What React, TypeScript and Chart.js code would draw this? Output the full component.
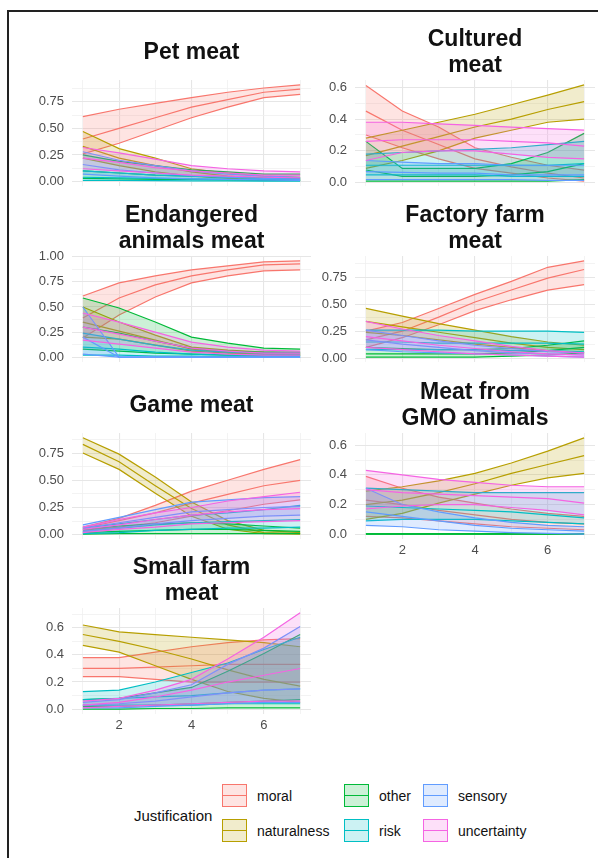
import React, { useEffect, useRef } from 'react';
import Chart from 'chart.js/auto';

const X_VALUES = [1, 2, 3, 4, 5, 6, 7];
const X_TICK_LABELS = ['2', '4', '6'];
const JUSTIFICATIONS = ['moral', 'naturalness', 'other', 'risk', 'sensory', 'uncertainty'];
const COLORS = ['#F8766D', '#B79F00', '#00BA38', '#00BFC4', '#619CFF', '#F564E3'];

// each series: [upper, mean, lower]
const petMoral = [[0.61, 0.68, 0.735, 0.79, 0.84, 0.88, 0.91], [0.40, 0.50, 0.60, 0.70, 0.77, 0.84, 0.87], [0.26, 0.36, 0.48, 0.60, 0.70, 0.79, 0.82]];
const petNaturalness = [[0.47, 0.31, 0.22, 0.12, 0.08, 0.05, 0.04], [0.33, 0.22, 0.15, 0.09, 0.05, 0.03, 0.02], [0.22, 0.15, 0.09, 0.05, 0.03, 0.02, 0.01]];
const petOther = [[0.25, 0.19, 0.15, 0.11, 0.09, 0.07, 0.07], [0.10, 0.08, 0.06, 0.05, 0.04, 0.035, 0.03], [0.03, 0.025, 0.02, 0.02, 0.015, 0.01, 0.01]];
const petRisk = [[0.10, 0.08, 0.06, 0.05, 0.04, 0.03, 0.03], [0.04, 0.035, 0.03, 0.025, 0.02, 0.015, 0.015], [0.01, 0.01, 0.008, 0.006, 0.005, 0.004, 0.003]];
const petSensory = [[0.28, 0.20, 0.15, 0.10, 0.07, 0.05, 0.04], [0.16, 0.11, 0.08, 0.055, 0.04, 0.03, 0.02], [0.07, 0.05, 0.035, 0.025, 0.02, 0.015, 0.01]];
const petUncertainty = [[0.32, 0.27, 0.21, 0.15, 0.12, 0.10, 0.09], [0.22, 0.18, 0.13, 0.10, 0.08, 0.06, 0.06], [0.12, 0.10, 0.08, 0.06, 0.05, 0.04, 0.035]];

const cultMoral = [[0.61, 0.45, 0.35, 0.22, 0.16, 0.11, 0.08], [0.45, 0.33, 0.24, 0.15, 0.10, 0.06, 0.03], [0.30, 0.22, 0.15, 0.09, 0.06, 0.03, 0.01]];
const cultNaturalness = [[0.28, 0.33, 0.38, 0.43, 0.49, 0.55, 0.615], [0.17, 0.23, 0.29, 0.35, 0.40, 0.46, 0.51], [0.09, 0.14, 0.20, 0.28, 0.33, 0.38, 0.40]];
const cultOther = [[0.26, 0.09, 0.09, 0.09, 0.12, 0.19, 0.31], [0.08, 0.04, 0.04, 0.04, 0.05, 0.07, 0.12], [0.01, 0.01, 0.01, 0.01, 0.01, 0.01, 0.02]];
const cultRisk = [[0.18, 0.19, 0.20, 0.21, 0.22, 0.24, 0.26], [0.11, 0.11, 0.11, 0.11, 0.11, 0.11, 0.12], [0.05, 0.05, 0.05, 0.05, 0.04, 0.04, 0.04]];
const cultSensory = [[0.14, 0.13, 0.12, 0.12, 0.11, 0.11, 0.11], [0.07, 0.065, 0.06, 0.06, 0.05, 0.05, 0.05], [0.02, 0.02, 0.02, 0.02, 0.02, 0.015, 0.015]];
const cultUncertainty = [[0.38, 0.38, 0.37, 0.36, 0.35, 0.34, 0.33], [0.26, 0.27, 0.27, 0.27, 0.26, 0.25, 0.23], [0.14, 0.19, 0.20, 0.20, 0.18, 0.16, 0.15]];

const endMoral = [[0.61, 0.74, 0.81, 0.87, 0.91, 0.95, 0.96], [0.39, 0.59, 0.72, 0.81, 0.87, 0.92, 0.93], [0.19, 0.42, 0.60, 0.74, 0.81, 0.86, 0.87]];
const endNaturalness = [[0.50, 0.35, 0.22, 0.10, 0.07, 0.05, 0.04], [0.35, 0.26, 0.17, 0.08, 0.05, 0.035, 0.03], [0.20, 0.18, 0.12, 0.06, 0.04, 0.03, 0.02]];
const endOther = [[0.59, 0.49, 0.35, 0.20, 0.14, 0.09, 0.08], [0.30, 0.24, 0.16, 0.09, 0.06, 0.05, 0.05], [0.08, 0.06, 0.04, 0.03, 0.02, 0.02, 0.02]];
const endRisk = [[0.24, 0.18, 0.12, 0.07, 0.05, 0.04, 0.04], [0.10, 0.08, 0.05, 0.03, 0.02, 0.02, 0.02], [0.02, 0.02, 0.01, 0.01, 0.005, 0.005, 0.005]];
const endSensory = [[0.50, 0, 0, 0, 0, 0, 0], [0.20, 0, 0, 0, 0, 0, 0], [0.03, 0, 0, 0, 0, 0, 0]];
const endUncertainty = [[0.44, 0.35, 0.25, 0.15, 0.10, 0.07, 0.06], [0.30, 0.23, 0.16, 0.09, 0.06, 0.04, 0.04], [0.17, 0.13, 0.09, 0.05, 0.03, 0.02, 0.02]];

const facMoral = [[0.25, 0.33, 0.46, 0.59, 0.71, 0.84, 0.90], [0.17, 0.25, 0.38, 0.52, 0.63, 0.74, 0.82], [0.10, 0.19, 0.31, 0.44, 0.54, 0.63, 0.68]];
const facNaturalness = [[0.46, 0.39, 0.32, 0.26, 0.20, 0.15, 0.12], [0.34, 0.29, 0.24, 0.19, 0.14, 0.10, 0.08], [0.24, 0.21, 0.17, 0.13, 0.10, 0.07, 0.05]];
const facOther = [[0.10, 0.09, 0.08, 0.08, 0.09, 0.12, 0.16], [0.04, 0.04, 0.04, 0.04, 0.05, 0.07, 0.10], [0.01, 0.01, 0.01, 0.01, 0.02, 0.03, 0.05]];
const facRisk = [[0.26, 0.26, 0.26, 0.25, 0.25, 0.25, 0.24], [0.15, 0.15, 0.14, 0.14, 0.14, 0.14, 0.13], [0.08, 0.08, 0.08, 0.08, 0.07, 0.07, 0.06]];
const facSensory = [[0.26, 0.21, 0.16, 0.12, 0.09, 0.06, 0.05], [0.17, 0.13, 0.10, 0.07, 0.05, 0.04, 0.03], [0.08, 0.06, 0.05, 0.04, 0.03, 0.02, 0.01]];
const facUncertainty = [[0.34, 0.27, 0.21, 0.16, 0.11, 0.07, 0.05], [0.20, 0.16, 0.12, 0.09, 0.06, 0.04, 0.03], [0.10, 0.08, 0.06, 0.04, 0.03, 0.02, 0.01]];

const gameMoral = [[0.07, 0.15, 0.27, 0.40, 0.50, 0.60, 0.69], [0.06, 0.13, 0.20, 0.29, 0.37, 0.45, 0.50], [0.04, 0.07, 0.11, 0.17, 0.22, 0.28, 0.32]];
const gameNaturalness = [[0.89, 0.74, 0.53, 0.30, 0.13, 0.04, 0.02], [0.83, 0.67, 0.45, 0.24, 0.09, 0.02, 0.01], [0.75, 0.60, 0.38, 0.17, 0.05, 0.01, 0.005]];
const gameOther = [[0.05, 0.08, 0.10, 0.11, 0.10, 0.08, 0.06], [0.02, 0.03, 0.04, 0.05, 0.05, 0.04, 0.03], [0.005, 0.01, 0.01, 0.01, 0.01, 0.01, 0.01]];
const gameRisk = [[0.06, 0.10, 0.14, 0.18, 0.20, 0.23, 0.27], [0.03, 0.06, 0.09, 0.11, 0.12, 0.13, 0.14], [0.01, 0.02, 0.04, 0.05, 0.06, 0.06, 0.07]];
const gameSensory = [[0.09, 0.16, 0.23, 0.30, 0.32, 0.34, 0.35], [0.06, 0.11, 0.16, 0.21, 0.23, 0.25, 0.26], [0.03, 0.06, 0.10, 0.13, 0.15, 0.17, 0.18]];
const gameUncertainty = [[0.07, 0.14, 0.20, 0.25, 0.31, 0.35, 0.39], [0.05, 0.09, 0.14, 0.18, 0.21, 0.23, 0.24], [0.02, 0.05, 0.07, 0.10, 0.11, 0.12, 0.13]];

const gmoMoral = [[0.39, 0.31, 0.25, 0.21, 0.17, 0.14, 0.12], [0.23, 0.20, 0.16, 0.13, 0.10, 0.08, 0.07], [0.12, 0.11, 0.09, 0.07, 0.05, 0.04, 0.03]];
const gmoNaturalness = [[0.29, 0.32, 0.36, 0.41, 0.48, 0.56, 0.65], [0.20, 0.23, 0.28, 0.34, 0.41, 0.47, 0.53], [0.10, 0.14, 0.21, 0.27, 0.33, 0.38, 0.41]];
const gmoOther = [[0.004, 0.004, 0.004, 0.004, 0.004, 0.004, 0.004], [0, 0, 0, 0, 0, 0, 0], [0, 0, 0, 0, 0, 0, 0]];
const gmoRisk = [[0.31, 0.30, 0.29, 0.28, 0.28, 0.28, 0.28], [0.19, 0.18, 0.17, 0.16, 0.15, 0.13, 0.11], [0.09, 0.10, 0.10, 0.10, 0.09, 0.08, 0.07]];
const gmoSensory = [[0.31, 0.20, 0.15, 0.11, 0.08, 0.06, 0.05], [0.15, 0.12, 0.09, 0.06, 0.04, 0.03, 0.02], [0.06, 0.05, 0.03, 0.02, 0.01, 0.005, 0]];
const gmoUncertainty = [[0.43, 0.40, 0.37, 0.35, 0.33, 0.32, 0.32], [0.30, 0.28, 0.27, 0.26, 0.25, 0.24, 0.21], [0.17, 0.19, 0.20, 0.20, 0.18, 0.16, 0.13]];

const smallMoral = [[0.38, 0.38, 0.42, 0.46, 0.49, 0.51, 0.52], [0.30, 0.30, 0.31, 0.32, 0.33, 0.33, 0.33], [0.24, 0.24, 0.22, 0.20, 0.20, 0.20, 0.20]];
const smallNaturalness = [[0.62, 0.57, 0.55, 0.53, 0.51, 0.49, 0.46], [0.55, 0.50, 0.44, 0.37, 0.29, 0.22, 0.17], [0.47, 0.42, 0.32, 0.22, 0.13, 0.08, 0.05]];
const smallOther = [[0.07, 0.08, 0.12, 0.16, 0.28, 0.41, 0.55], [0.02, 0.02, 0.03, 0.04, 0.05, 0.06, 0.07], [0, 0, 0.005, 0.005, 0.01, 0.01, 0.01]];
const smallRisk = [[0.13, 0.14, 0.20, 0.27, 0.34, 0.44, 0.53], [0.07, 0.08, 0.09, 0.10, 0.12, 0.14, 0.15], [0.03, 0.03, 0.03, 0.03, 0.04, 0.04, 0.04]];
const smallSensory = [[0.05, 0.07, 0.12, 0.18, 0.33, 0.45, 0.61], [0.03, 0.04, 0.06, 0.09, 0.12, 0.14, 0.15], [0.01, 0.01, 0.02, 0.03, 0.04, 0.05, 0.05]];
const smallUncertainty = [[0.06, 0.08, 0.14, 0.22, 0.37, 0.53, 0.71], [0.03, 0.05, 0.09, 0.14, 0.20, 0.25, 0.30], [0.01, 0.02, 0.03, 0.04, 0.05, 0.06, 0.06]];

const PANELS = [
  { title: ['Pet meat'], col: 0, row: 0, step: 0.25, dec: 2, showX: false, series: [petMoral, petNaturalness, petOther, petRisk, petSensory, petUncertainty] },
  { title: ['Cultured', 'meat'], col: 1, row: 0, step: 0.2, dec: 1, showX: false, series: [cultMoral, cultNaturalness, cultOther, cultRisk, cultSensory, cultUncertainty] },
  { title: ['Endangered', 'animals meat'], col: 0, row: 1, step: 0.25, dec: 2, showX: false, series: [endMoral, endNaturalness, endOther, endRisk, endSensory, endUncertainty] },
  { title: ['Factory farm', 'meat'], col: 1, row: 1, step: 0.25, dec: 2, showX: false, series: [facMoral, facNaturalness, facOther, facRisk, facSensory, facUncertainty] },
  { title: ['Game meat'], col: 0, row: 2, step: 0.25, dec: 2, showX: false, series: [gameMoral, gameNaturalness, gameOther, gameRisk, gameSensory, gameUncertainty] },
  { title: ['Meat from', 'GMO animals'], col: 1, row: 2, step: 0.2, dec: 1, showX: true, series: [gmoMoral, gmoNaturalness, gmoOther, gmoRisk, gmoSensory, gmoUncertainty] },
  { title: ['Small farm', 'meat'], col: 0, row: 3, step: 0.2, dec: 1, showX: true, series: [smallMoral, smallNaturalness, smallOther, smallRisk, smallSensory, smallUncertainty] },
];

const FONT = '"Liberation Sans", Arial, Helvetica, sans-serif';
const COL_GEOM = [
  { left: 10, width: 302, axisW: 62, padRight: 1 },
  { left: 312, width: 286, axisW: 43, padRight: 3 },
];
const ROW_TOPS = [80, 256, 433, 608];
const PLOT_H = 106;
const PAD_TOP = 20;
const X_AXIS_H = 24;

function rgba(hex: string, a: number) {
  const n = parseInt(hex.slice(1), 16);
  return `rgba(${(n >> 16) & 255},${(n >> 8) & 255},${n & 255},${a})`;
}

function buildConfig(p: any): any {
  let dmin = Infinity, dmax = -Infinity;
  p.series.forEach((s: number[][]) => s.forEach((arr) => arr.forEach((v) => { dmin = Math.min(dmin, v); dmax = Math.max(dmax, v); })));
  const range = dmax - dmin;
  const ymin = dmin - range * 0.05;
  const ymax = dmax + range * 0.05;
  const datasets: any[] = [];
  for (let j = JUSTIFICATIONS.length - 1; j >= 0; j--) {
    const [hi, mid, lo] = p.series[j];
    const c = COLORS[j];
    const common = { borderColor: c, borderWidth: 1.2, pointRadius: 0, pointHoverRadius: 0, tension: 0 };
    datasets.push({ ...common, label: JUSTIFICATIONS[j] + ' upper', data: X_VALUES.map((x, i) => ({ x, y: hi[i] })), backgroundColor: rgba(c, 0.2), fill: '+2' });
    datasets.push({ ...common, label: JUSTIFICATIONS[j], data: X_VALUES.map((x, i) => ({ x, y: mid[i] })), fill: false });
    datasets.push({ ...common, label: JUSTIFICATIONS[j] + ' lower', data: X_VALUES.map((x, i) => ({ x, y: lo[i] })), fill: false });
  }
  const g = COL_GEOM[p.col];
  const half = p.step / 2;
  return {
    type: 'line',
    data: { datasets },
    options: {
      animation: false,
      responsive: false,
      events: [],
      layout: { padding: { top: PAD_TOP, right: g.padRight, left: 0, bottom: 0 } },
      plugins: { legend: { display: false }, tooltip: { enabled: false }, title: { display: false } },
      scales: {
        x: {
          type: 'linear',
          min: 0.7,
          max: 7.3,
          afterBuildTicks: (axis: any) => { axis.ticks = X_VALUES.map((v) => ({ value: v })); },
          afterFit: (axis: any) => { axis.height = X_AXIS_H; },
          border: { display: false },
          grid: {
            drawTicks: false,
            color: (ctx: any) => (ctx.tick && ctx.tick.value % 2 === 0 ? '#E6E6E6' : '#F0F0F0'),
            lineWidth: (ctx: any) => (ctx.tick && ctx.tick.value % 2 === 0 ? 1.1 : 0.8),
          },
          ticks: {
            display: p.showX,
            autoSkip: false,
            maxRotation: 0,
            padding: 4,
            color: '#4D4D4D',
            font: { family: FONT, size: 13 },
            callback: (v: number) => (X_TICK_LABELS.includes(String(v)) ? String(v) : ''),
          },
        },
        y: {
          type: 'linear',
          min: ymin,
          max: ymax,
          afterBuildTicks: (axis: any) => {
            const t: any[] = [];
            for (let k = 0; k * half <= ymax + 1e-9; k++) t.push({ value: +(k * half).toFixed(4), major: k % 2 === 0 });
            axis.ticks = t;
          },
          afterFit: (axis: any) => { axis.width = g.axisW; },
          border: { display: false },
          grid: {
            drawTicks: false,
            color: (ctx: any) => (ctx.tick && Math.round(ctx.tick.value / half) % 2 === 0 ? '#E6E6E6' : '#F0F0F0'),
            lineWidth: (ctx: any) => (ctx.tick && Math.round(ctx.tick.value / half) % 2 === 0 ? 1.1 : 0.8),
          },
          ticks: {
            autoSkip: false,
            padding: 8,
            color: '#4D4D4D',
            font: { family: FONT, size: 13 },
            callback: (v: number) => (Math.round(v / half) % 2 === 0 ? v.toFixed(p.dec) : ''),
          },
        },
      },
    },
  };
}

function Panel({ p }: { p: any }) {
  const ref = useRef<HTMLCanvasElement>(null);
  useEffect(() => {
    const chart = new Chart(ref.current as HTMLCanvasElement, buildConfig(p));
    return () => chart.destroy();
  }, []);
  const g = COL_GEOM[p.col];
  const top = ROW_TOPS[p.row] - PAD_TOP;
  const h = PAD_TOP + PLOT_H + X_AXIS_H;
  const plotL = g.left + g.axisW;
  const plotR = g.left + g.width - g.padRight;
  return (
    <>
      <canvas ref={ref} width={g.width} height={h} style={{ position: 'absolute', left: g.left, top, width: g.width, height: h }} />
      <div
        style={{
          position: 'absolute', left: plotL - 40, width: plotR - plotL + 80, top: ROW_TOPS[p.row] - 29 - 30, height: 60,
          display: 'flex', flexDirection: 'column', alignItems: 'center', justifyContent: 'center',
          fontFamily: FONT, fontWeight: 'bold', fontSize: 23, lineHeight: '26px', color: '#111', textAlign: 'center',
        }}
      >
        {p.title.map((t: string, i: number) => <div key={i}>{t}</div>)}
      </div>
    </>
  );
}

const LEGEND_COLS = [222, 344, 423];
const LEGEND_ROWS = [784, 819];

export default function App() {
  return (
    <div style={{ position: 'absolute', left: 0, top: 0, width: 598, height: 858, background: '#fff', overflow: 'hidden' }}>
      <div style={{ position: 'absolute', left: 7, top: 10, width: 620, height: 900, borderTop: '2px solid #222', borderLeft: '2px solid #222' }} />
      {PANELS.map((p, i) => <Panel key={i} p={p} />)}
      <div style={{ position: 'absolute', left: 134, top: 806, fontFamily: FONT, fontSize: 15, color: '#111', lineHeight: '20px' }}>Justification</div>
      {JUSTIFICATIONS.map((name, j) => {
        const col = Math.floor(j / 2);
        const row = j % 2;
        const x = LEGEND_COLS[col];
        const y = LEGEND_ROWS[row];
        return (
          <React.Fragment key={name}>
            <div style={{ position: 'absolute', left: x, top: y, width: 23, height: 21, border: `1.5px solid ${COLORS[j]}`, background: rgba(COLORS[j], 0.2) }}>
              <div style={{ position: 'absolute', left: 0, right: 0, top: 10, height: 1.2, background: COLORS[j] }} />
            </div>
            <div style={{ position: 'absolute', left: x + 35, top: y + 3, fontFamily: FONT, fontSize: 14, color: '#111', lineHeight: '18px' }}>{name}</div>
          </React.Fragment>
        );
      })}
    </div>
  );
}
